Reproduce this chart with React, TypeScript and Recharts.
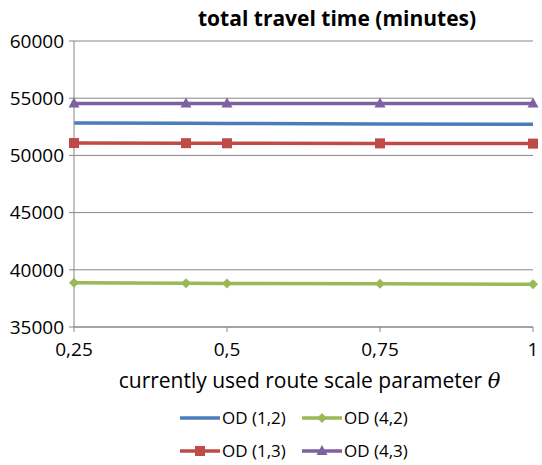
import React from 'react';
import { LineChart, Line, XAxis, YAxis, CartesianGrid, Label } from 'recharts';

const thetas = [0.25, 0.433, 0.5, 0.75, 1];
const od12 = [52830, 52800, 52790, 52750, 52720];
const od13 = [51080, 51070, 51060, 51050, 51030];
const od42 = [38860, 38830, 38800, 38770, 38740];
const od43 = [54540, 54540, 54540, 54540, 54540];
const xTicks = [0.25, 0.5, 0.75, 1];
const yTicks = [35000, 40000, 45000, 50000, 55000, 60000];

const FONT = '"Open Sans", sans-serif';
const AXIS_GRAY = '#868686';

const series = [
    { key: 'od12', name: 'OD (1,2)', color: '#4a7ebb', marker: 'none', values: od12 },
    { key: 'od42', name: 'OD (4,2)', color: '#98b954', marker: 'diamond', values: od42 },
    { key: 'od13', name: 'OD (1,3)', color: '#be4b48', marker: 'square', values: od13 },
    { key: 'od43', name: 'OD (4,3)', color: '#7d60a0', marker: 'triangle', values: od43 },
];

const data = thetas.map((t, i) => {
    const row: Record<string, number> = { theta: t };
    series.forEach(s => { row[s.key] = s.values[i]; });
    return row;
});

function Marker({ cx, cy, kind, color }: { cx: number; cy: number; kind: string; color: string }) {
    if (kind === 'square') {
        return <rect x={cx - 5} y={cy - 5} width={10} height={10} fill={color} />;
    }
    if (kind === 'diamond') {
        return <polygon points={`${cx},${cy - 5} ${cx + 5},${cy} ${cx},${cy + 5} ${cx - 5},${cy}`} fill={color} />;
    }
    if (kind === 'triangle') {
        return <polygon points={`${cx},${cy - 6} ${cx + 5.5},${cy + 4} ${cx - 5.5},${cy + 4}`} fill={color} />;
    }
    return null;
}

function makeDot(kind: string, color: string) {
    if (kind === 'none') return false;
    return (props: any) => (
        <Marker key={`${kind}-${props.index}`} cx={props.cx} cy={props.cy} kind={kind} color={color} />
    );
}

function XTitle(props: any) {
    const { viewBox } = props;
    const x = viewBox.x + viewBox.width / 2 + 6;
    const y = viewBox.y + 61;
    return (
        <text x={x} y={y} textAnchor="middle" fontFamily={FONT} fontSize={21} fill="#000">
            currently used route scale parameter{' '}
            <tspan fontStyle="italic" fontFamily="'DejaVu Serif', serif">θ</tspan>
        </text>
    );
}

function LegendBox() {
    const rows = [[series[0], series[1]], [series[2], series[3]]];
    return (
        <div style={{ position: 'absolute', left: 179, top: 401, fontFamily: FONT, fontSize: 17 }}>
            {rows.map((row, r) => (
                <div key={r} style={{ display: 'flex', height: 33, alignItems: 'center' }}>
                    {row.map(s => (
                        <div key={s.key} style={{ display: 'flex', alignItems: 'center', width: 122 }}>
                            <svg width={42} height={14}>
                                <line x1={1} y1={7} x2={41} y2={7} stroke={s.color} strokeWidth={3.5} />
                                <Marker cx={21} cy={7} kind={s.marker} color={s.color} />
                            </svg>
                            <span style={{ marginLeft: 1 }}>{s.name}</span>
                        </div>
                    ))}
                </div>
            ))}
        </div>
    );
}

export default function App() {
    return (
        <div style={{ position: 'absolute', left: 0, top: 0, width: 542, height: 465, background: '#fff' }}>
            <div style={{ position: 'absolute', left: 198, top: 4, fontFamily: FONT, fontSize: 21, fontWeight: 700 }}>
                total travel time (minutes)
            </div>
            <LineChart width={542} height={465} data={data} margin={{ top: 41, right: 9, bottom: 0, left: 0 }}>
                <CartesianGrid vertical={false} stroke={AXIS_GRAY} strokeWidth={1} />
                <XAxis
                    dataKey="theta"
                    type="number"
                    domain={[0.25, 1]}
                    ticks={xTicks}
                    height={138}
                    stroke={AXIS_GRAY}
                    tickSize={5}
                    tickMargin={11}
                    tick={{ fill: '#000', fontFamily: FONT, fontSize: 19 }}
                    tickFormatter={(v: number) => String(v).replace('.', ',')}
                >
                    <Label content={<XTitle />} />
                </XAxis>
                <YAxis
                    domain={[35000, 60000]}
                    ticks={yTicks}
                    width={74}
                    stroke={AXIS_GRAY}
                    tickSize={5}
                    tickMargin={5}
                    tick={{ fill: '#000', fontFamily: FONT, fontSize: 19 }}
                    tickFormatter={(v: number) => String(v)}
                />
                {series.map(s => (
                    <Line
                        key={s.key}
                        dataKey={s.key}
                        name={s.name}
                        stroke={s.color}
                        strokeWidth={3.5}
                        dot={makeDot(s.marker, s.color)}
                        activeDot={false}
                        isAnimationActive={false}
                    />
                ))}
            </LineChart>
            <LegendBox />
        </div>
    );
}
